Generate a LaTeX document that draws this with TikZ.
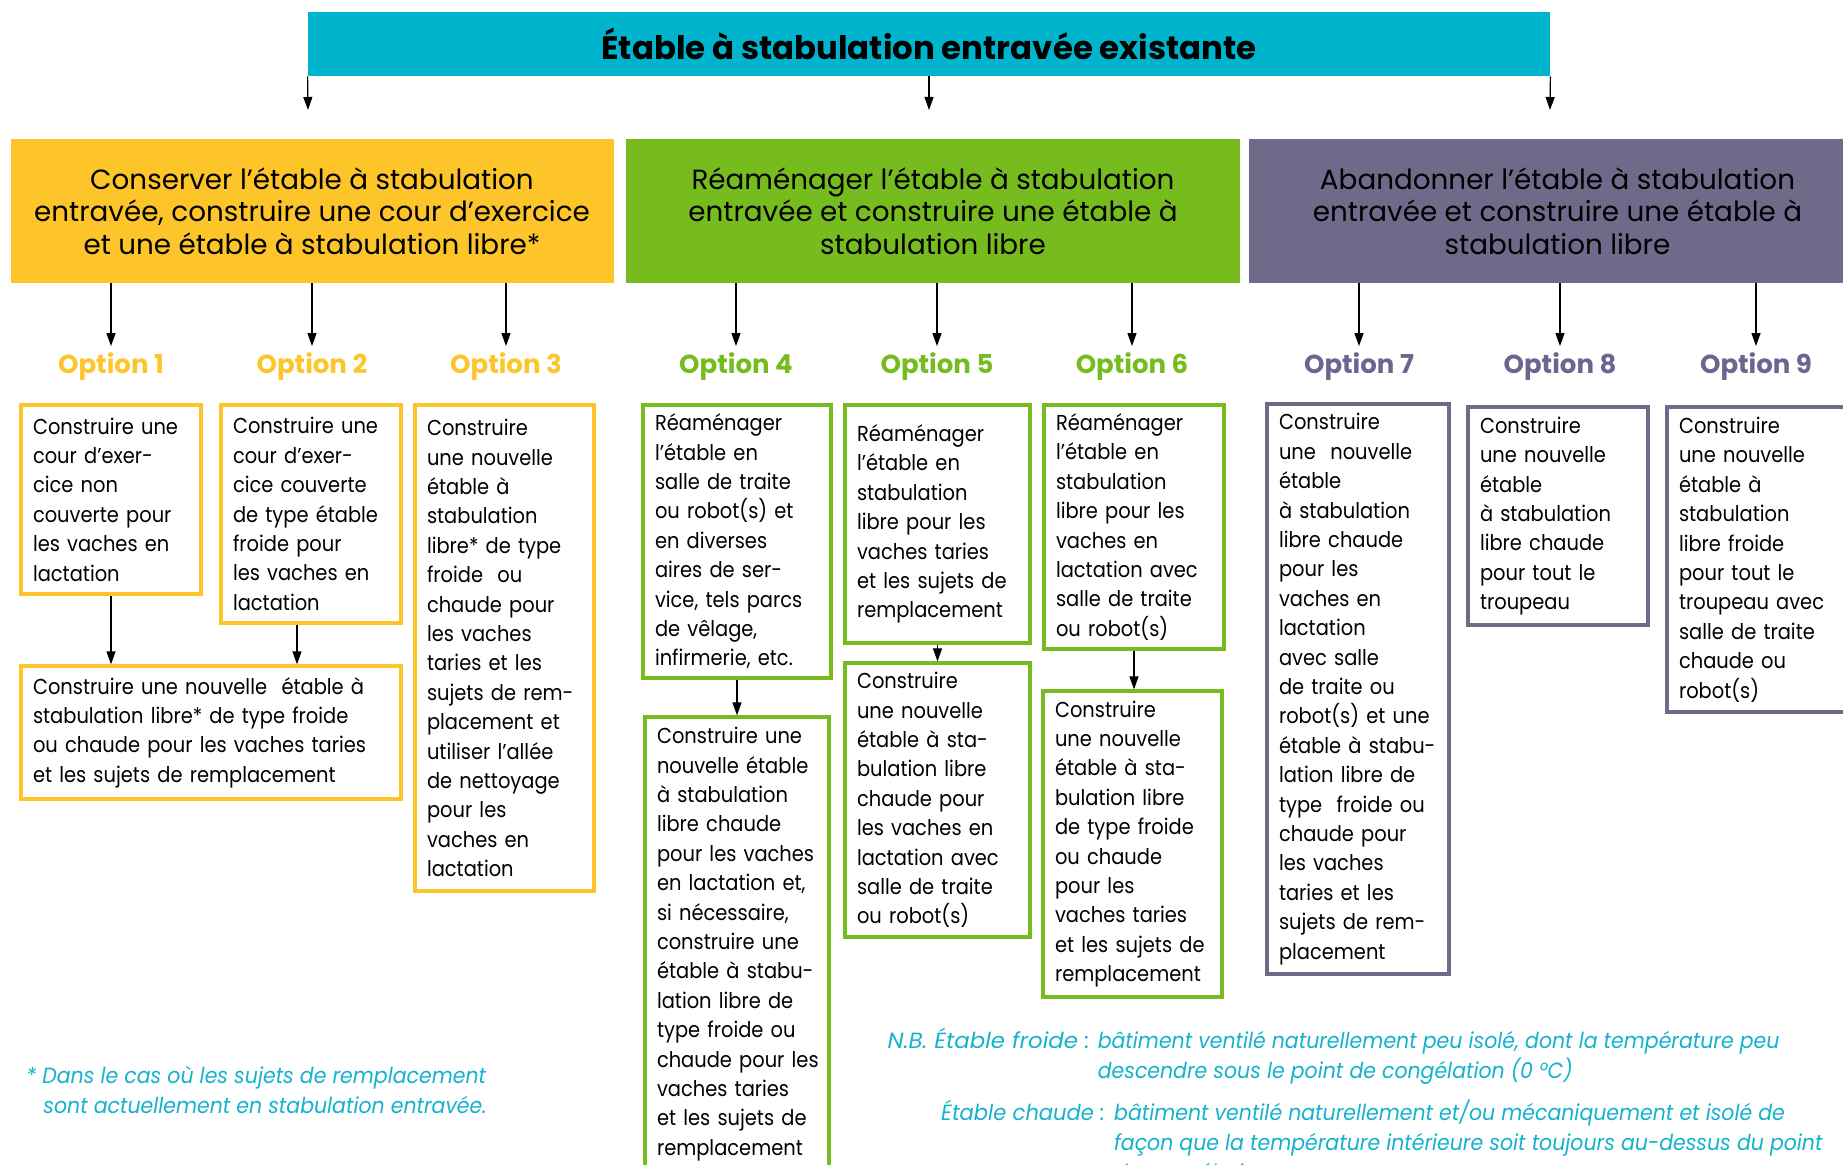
\documentclass[tikz,border=0pt]{standalone}
\usepackage{fontspec}
\setmainfont{Poppins}[FakeStretch=0.9]
\newfontfamily\plainfont{Poppins}
\newfontfamily\notefont{Poppins}[FakeStretch=0.93]
\usetikzlibrary{arrows.meta,positioning}
\definecolor{titlecyan}{HTML}{00B4CE}
\definecolor{notecyan}{HTML}{14B2CC}
\definecolor{optyellow}{HTML}{FDC52A}
\definecolor{optgreen}{HTML}{77BC1F}
\definecolor{optpurple}{HTML}{6E6B8A}
\definecolor{labelpurple}{HTML}{6A6690}
\begin{document}
\begin{tikzpicture}[x=0.5pt,y=-0.5pt,
  flow/.style={-{Triangle[length=6.5pt,width=4.5pt]},line width=0.6pt},
  catbox/.style={minimum height=72pt,align=center,inner sep=0pt,font=\plainfont\fontsize{13.9}{16.2}\selectfont},
  optlabel/.style={font=\plainfont\fontsize{13}{15}\selectfont\bfseries},
  optbox/.style={draw,line width=1.6pt,align=left,inner xsep=6pt,inner ysep=0pt,font=\fontsize{10.8}{14.7}\selectfont},
  note/.style={text=notecyan,align=left,inner sep=0pt,font=\notefont\itshape\fontsize{11}{15}\selectfont}]
\useasboundingbox (0,0) rectangle (1843,1165);
\node[fill=titlecyan,minimum width=621pt,minimum height=32pt,font=\plainfont\fontsize{16.2}{18}\selectfont\bfseries] (title) at (929,44) {Étable à stabulation entravée existante};
\node[catbox,fill=optyellow,minimum width=301.5pt] (keep) at (312,211) {Conserver l’étable à stabulation\\entravée, construire une cour d’exercice\\et une étable à stabulation libre*};
\node[catbox,fill=optgreen,minimum width=307pt] (rework) at (933,211) {Réaménager l’étable à stabulation\\entravée et construire une étable à\\stabulation libre};
\node[catbox,fill=optpurple,minimum width=308.5pt] (leave) at (1557.5,211) {Abandonner l’étable à stabulation\\entravée et construire une étable à\\stabulation libre};
\coordinate (t1) at (308,110);
\coordinate (t2) at (929,110);
\coordinate (t3) at (1550,110);
\draw[flow] (title.south west) -- (t1);
\draw[flow] (title.south) -- (t2);
\draw[flow] (title.south east) -- (t3);
\node[optlabel,text=optyellow] (o1) at (111,367) {Option 1};
\node[optlabel,text=optyellow] (o2) at (312,367) {Option 2};
\node[optlabel,text=optyellow] (o3) at (506,367) {Option 3};
\node[optlabel,text=optgreen] (o4) at (736,367) {Option 4};
\node[optlabel,text=optgreen] (o5) at (937,367) {Option 5};
\node[optlabel,text=optgreen] (o6) at (1132,367) {Option 6};
\node[optlabel,text=labelpurple] (o7) at (1359,367) {Option 7};
\node[optlabel,text=labelpurple] (o8) at (1560,367) {Option 8};
\node[optlabel,text=labelpurple] (o9) at (1756,367) {Option 9};
\draw[flow] (o1.north |- keep.south) -- (o1.north);
\draw[flow] (o2.north |- keep.south) -- (o2.north);
\draw[flow] (o3.north |- keep.south) -- (o3.north);
\draw[flow] (o4.north |- rework.south) -- (o4.north);
\draw[flow] (o5.north |- rework.south) -- (o5.north);
\draw[flow] (o6.north |- rework.south) -- (o6.north);
\draw[flow] (o7.north |- leave.south) -- (o7.north);
\draw[flow] (o8.north |- leave.south) -- (o8.north);
\draw[flow] (o9.north |- leave.south) -- (o9.north);
\node[optbox,draw=optyellow,text width=78pt,minimum height=94.5pt] (b1) at (111,499.5) {Construire une\\cour d’exer-\\cice non\\couverte pour\\les vaches en\\lactation};
\node[optbox,draw=optyellow,text width=78pt,minimum height=109pt] (b2) at (311,514) {Construire une\\cour d’exer-\\cice couverte\\de type étable\\froide pour\\les vaches en\\lactation};
\node[optbox,draw=optyellow,text width=178pt,minimum height=66.5pt] (b12) at (211,732.5) {Construire une nouvelle\ \ étable à\\stabulation libre* de type froide\\ou chaude pour les vaches taries\\et les sujets de remplacement};
\node[optbox,draw=optyellow,text width=77.5pt,minimum height=243pt] (b3) at (504.5,648) {Construire\\une nouvelle\\étable à\\stabulation\\libre* de type\\froide\ \ ou\\chaude pour\\les vaches\\taries et les\\sujets de rem-\\placement et\\utiliser l’allée\\de nettoyage\\pour les\\vaches en\\lactation};
\node[optbox,draw=optgreen,text width=82pt,minimum height=136.5pt] (b4) at (737,541.5) {Réaménager\\l’étable en\\salle de traite\\ou robot(s) et\\en diverses\\aires de ser-\\vice, tels parcs\\de vêlage,\\infirmerie, etc.};
\node[optbox,draw=optgreen,text width=80pt,minimum height=227pt] (b4b) at (737,944) {Construire une\\nouvelle étable\\à stabulation\\libre chaude\\pour les vaches\\en lactation et,\\si nécessaire,\\construire une\\étable à stabu-\\lation libre de\\type froide ou\\\mbox{chaude pour les}\\vaches taries\\et les sujets de\\remplacement};
\node[optbox,draw=optgreen,text width=80.5pt,minimum height=119pt] (b5) at (937.5,524) {Réaménager\\l’étable en\\stabulation\\libre pour les\\vaches taries\\et les sujets de\\remplacement};
\node[optbox,draw=optgreen,text width=80.5pt,minimum height=137pt] (b5b) at (937.5,800) {Construire\\une nouvelle\\étable à sta-\\bulation libre\\chaude pour\\les vaches en\\lactation avec\\salle de traite\\ou robot(s)};
\node[optbox,draw=optgreen,text width=78pt,minimum height=122pt] (b6) at (1134,527) {Réaménager\\l’étable en\\stabulation\\libre pour les\\vaches en\\lactation avec\\salle de traite\\ou robot(s)};
\node[optbox,draw=optgreen,text width=77.5pt,minimum height=153pt] (b6b) at (1132.5,844) {Construire\\une nouvelle\\étable à sta-\\bulation libre\\de type froide\\ou chaude\\pour les\\vaches taries\\et les sujets de\\remplacement};
\node[optbox,draw=optpurple,text width=79pt,minimum height=285pt] (b7) at (1358,689) {Construire\\une\ \ nouvelle\\étable\\à stabulation\\libre chaude\\pour les\\vaches en\\lactation\\avec salle\\de traite ou\\robot(s) et une\\étable à stabu-\\lation libre de\\type\ \ froide ou\\chaude pour\\les vaches\\taries et les\\sujets de rem-\\placement};
\node[optbox,draw=optpurple,text width=78pt,minimum height=109pt] (b8) at (1558,516) {Construire\\une nouvelle\\étable\\à stabulation\\libre chaude\\pour tout le\\troupeau};
\node[optbox,draw=optpurple,text width=78pt,minimum height=152.5pt] (b9) at (1757,559.5) {Construire\\une nouvelle\\étable à\\stabulation\\libre froide\\pour tout le\\troupeau avec\\salle de traite\\chaude ou\\robot(s)};
\draw[flow] (b1.south) -- (b1.south |- b12.north);
\draw[flow] ([xshift=-7pt]b2.south) -- ([xshift=-7pt]b2.south |- b12.north);
\draw[flow] (b4.south) -- (b4.south |- b4b.north);
\draw[flow] (b5.south) -- (b5.south |- b5b.north);
\draw[flow] (b6.south) -- (b6.south |- b6b.north);
\node[note,anchor=west] (star) at (26,1089.5) {* Dans le cas où les sujets de remplacement\\\hspace*{8.5pt}sont actuellement en stabulation entravée.};
\node[note,anchor=west] (cold) at (886,1057.5) {\begin{tabular}{@{}r@{\hspace{4pt}}l@{}}\makebox[101.7pt][r]{\scalebox{1.12}[1]{N.B. Étable froide :}}&bâtiment ventilé naturellement peu isolé, dont la température peu\\&descendre sous le point de congélation (0 °C)\end{tabular}};
\node[note,anchor=west] (warm) at (941,1144) {\begin{tabular}{@{}r@{\hspace{4.7pt}}l@{}}\makebox[81.7pt][r]{\scalebox{1.03}[1]{Étable chaude :}}&bâtiment ventilé naturellement et/ou mécaniquement et isolé de\\&façon que la température intérieure soit toujours au-dessus du point\\&de congélation\end{tabular}};
\end{tikzpicture}
\end{document}
